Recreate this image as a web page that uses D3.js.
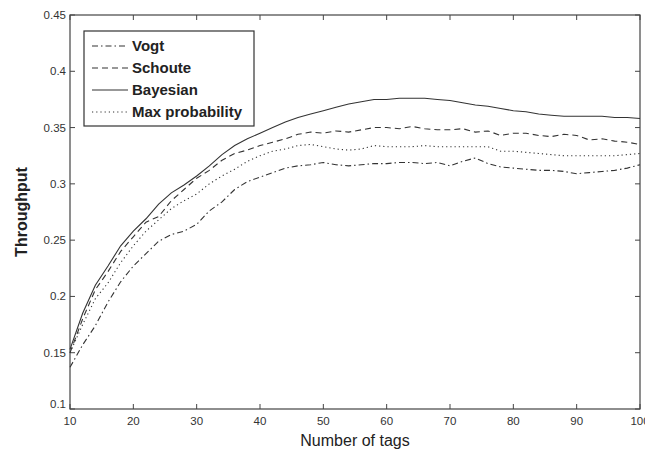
<!DOCTYPE html>
<html>
<head>
<meta charset="utf-8">
<script src="https://cdn.jsdelivr.net/npm/d3@7"></script>
<style>
  body { margin: 0; background: #fff; }
  svg text { font-family: "Liberation Sans", Arial, sans-serif; }
</style>
</head>
<body>
<div id="chart"></div>
<script>
// tag counts sampled along the x axis
const tags = [10,12,14,16,18,20,22,24,26,28,30,32,34,36,38,40,42,44,46,48,50,52,54,56,58,60,62,64,66,68,70,72,74,76,78,80,82,84,86,88,90,92,94,96,98,100];

const vogt = [0.137,0.157,0.174,0.195,0.213,0.227,0.238,0.249,0.255,0.258,0.264,0.276,0.284,0.295,0.302,0.306,0.310,0.314,0.316,0.317,0.319,0.317,0.316,0.317,0.318,0.318,0.319,0.319,0.318,0.319,0.316,0.320,0.323,0.318,0.315,0.314,0.313,0.312,0.312,0.311,0.309,0.310,0.311,0.312,0.314,0.317];
const schoute = [0.150,0.180,0.206,0.222,0.240,0.253,0.266,0.271,0.285,0.295,0.305,0.312,0.321,0.327,0.330,0.334,0.337,0.340,0.344,0.346,0.345,0.347,0.346,0.348,0.350,0.350,0.349,0.351,0.349,0.348,0.348,0.349,0.346,0.347,0.343,0.345,0.345,0.343,0.342,0.344,0.343,0.339,0.340,0.338,0.337,0.335];
const bayesian = [0.153,0.185,0.210,0.227,0.245,0.258,0.269,0.282,0.292,0.299,0.307,0.316,0.326,0.334,0.340,0.345,0.350,0.355,0.359,0.362,0.365,0.368,0.371,0.373,0.375,0.375,0.376,0.376,0.376,0.375,0.374,0.372,0.370,0.369,0.367,0.365,0.364,0.362,0.361,0.360,0.360,0.360,0.360,0.359,0.359,0.358];
const maxProb = [0.150,0.175,0.198,0.212,0.230,0.245,0.258,0.268,0.278,0.285,0.291,0.300,0.307,0.313,0.320,0.325,0.329,0.331,0.334,0.335,0.333,0.331,0.330,0.331,0.334,0.333,0.333,0.333,0.334,0.333,0.333,0.333,0.333,0.333,0.329,0.329,0.328,0.327,0.326,0.325,0.325,0.325,0.325,0.325,0.326,0.327];

const xTicks = [10,20,30,40,50,60,70,80,90,100];
const yTicks = [0.1,0.15,0.2,0.25,0.3,0.35,0.4,0.45];

const seriesNames = ['Vogt', 'Schoute', 'Bayesian', 'Max probability'];
const seriesValues = [vogt, schoute, bayesian, maxProb];
const dashes = ['6,3,1.5,3', '6,4', null, '1.2,3'];

const width = 645, height = 453;
const margin = { top: 15, right: 5, bottom: 44, left: 70 };

const svg = d3.select('#chart').append('svg')
    .attr('width', width)
    .attr('height', height);

const x = d3.scaleLinear().domain([10, 100]).range([margin.left, width - margin.right]);
const y = d3.scaleLinear().domain([0.1, 0.45]).range([height - margin.bottom, margin.top]);

const axisColor = '#444';
const tickLen = 5;

// frame
svg.append('rect')
    .attr('x', x(10)).attr('y', y(0.45))
    .attr('width', x(100) - x(10)).attr('height', y(0.1) - y(0.45))
    .attr('fill', 'none').attr('stroke', axisColor).attr('stroke-width', 1.2);

// inward ticks on all four sides
const g = svg.append('g').attr('stroke', axisColor).attr('stroke-width', 1);
xTicks.forEach(t => {
    g.append('line').attr('x1', x(t)).attr('x2', x(t)).attr('y1', y(0.1)).attr('y2', y(0.1) - tickLen);
    g.append('line').attr('x1', x(t)).attr('x2', x(t)).attr('y1', y(0.45)).attr('y2', y(0.45) + tickLen);
});
yTicks.forEach(t => {
    g.append('line').attr('x1', x(10)).attr('x2', x(10) + tickLen).attr('y1', y(t)).attr('y2', y(t));
    g.append('line').attr('x1', x(100)).attr('x2', x(100) - tickLen).attr('y1', y(t)).attr('y2', y(t));
});

// tick labels
svg.append('g').selectAll('text')
    .data(xTicks)
    .join('text')
    .attr('x', d => x(d))
    .attr('y', y(0.1) + 16)
    .attr('text-anchor', 'middle')
    .attr('font-size', 11.5)
    .attr('fill', '#333')
    .text(d => d);

svg.append('g').selectAll('text')
    .data(yTicks)
    .join('text')
    .attr('x', x(10) - 4)
    .attr('y', d => y(d) + (d === 0.1 ? -1 : 4))
    .attr('text-anchor', 'end')
    .attr('font-size', 11.5)
    .attr('fill', '#333')
    .text(d => d);

// axis titles
svg.append('text')
    .attr('x', (x(10) + x(100)) / 2)
    .attr('y', height - 7)
    .attr('text-anchor', 'middle')
    .attr('font-size', 16)
    .attr('fill', '#222')
    .text('Number of tags');

svg.append('text')
    .attr('transform', `translate(27, ${(y(0.1) + y(0.45)) / 2}) rotate(-90)`)
    .attr('text-anchor', 'middle')
    .attr('font-size', 16)
    .attr('font-weight', 'bold')
    .attr('fill', '#222')
    .text('Throughput');

// series lines
const line = d3.line()
    .x((d, i) => x(tags[i]))
    .y(d => y(d));

seriesValues.forEach((vals, k) => {
    svg.append('path')
        .datum(vals)
        .attr('d', line)
        .attr('fill', 'none')
        .attr('stroke', '#333')
        .attr('stroke-width', 1.1)
        .attr('stroke-dasharray', dashes[k]);
});

// legend
const legend = svg.append('g');
legend.append('rect')
    .attr('x', 84).attr('y', 31)
    .attr('width', 170).attr('height', 95)
    .attr('fill', '#fff').attr('stroke', '#333').attr('stroke-width', 1.2);

seriesNames.forEach((name, k) => {
    const ly = 46 + k * 22;
    legend.append('line')
        .attr('x1', 92).attr('x2', 128)
        .attr('y1', ly).attr('y2', ly)
        .attr('stroke', '#333').attr('stroke-width', 1.1)
        .attr('stroke-dasharray', dashes[k]);
    legend.append('text')
        .attr('x', 132).attr('y', ly + 5)
        .attr('font-size', 15)
        .attr('font-weight', 'bold')
        .attr('fill', '#222')
        .text(name);
});
</script>
</body>
</html>
